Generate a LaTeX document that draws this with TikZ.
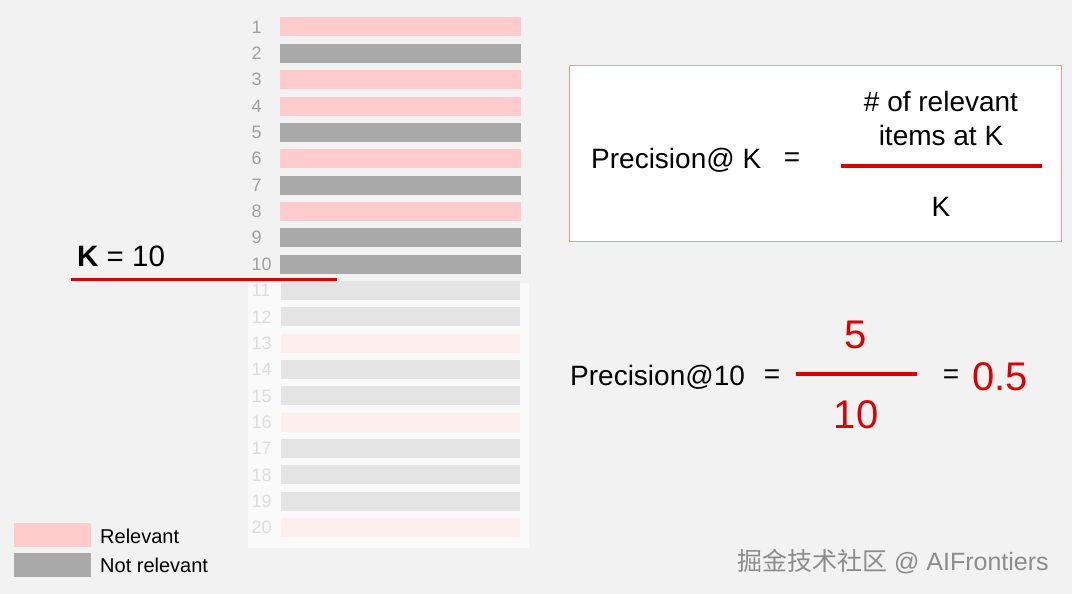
\documentclass[tikz,border=0pt]{standalone}
\usepackage{fontspec}
\setmainfont{Liberation Sans}
\newfontfamily\cjkfont{Noto Sans CJK SC}
\definecolor{bg}{HTML}{F2F2F2}
\definecolor{relpink}{HTML}{FFCCCE}
\definecolor{notgray}{HTML}{A9A9AA}
\definecolor{fadepink}{HTML}{FFEEEE}
\definecolor{fadegray}{HTML}{E4E4E4}
\definecolor{numgray}{HTML}{A0A0A0}
\definecolor{fadenum}{HTML}{DDDDDD}
\definecolor{myred}{RGB}{222,0,0}
\definecolor{boxborder}{HTML}{EC9A9A}
\definecolor{wmgray}{HTML}{8C8C8C}
\tikzset{
  bar/.style={rectangle, inner sep=0pt, minimum width=241pt, minimum height=19pt, anchor=west},
  rel/.style={bar, fill=relpink},
  nrel/.style={bar, fill=notgray},
  frel/.style={bar, fill=fadepink},
  fnrel/.style={bar, fill=fadegray},
  num/.style={anchor=west, inner sep=0pt, font=\fontsize{18}{20}\selectfont, text=numgray},
  fnum/.style={num, text=fadenum},
  big/.style={inner sep=0pt, font=\fontsize{28}{32}\selectfont},
  redbig/.style={inner sep=0pt, font=\fontsize{40}{44}\selectfont, text=myred},
  legtxt/.style={anchor=west, inner sep=0pt, font=\fontsize{20}{22}\selectfont},
  redline/.style={draw=myred, line width=4pt},
}
\begin{document}
\begin{tikzpicture}[x=1pt,y=-1pt]
\fill[bg] (0,0) rectangle (1072,594);
\useasboundingbox (0,0) rectangle (1072,594);
% lower faded panel
\fill[white!60!bg] (248,283) rectangle (529,548);
% bars
\foreach \i/\s in {1/rel,2/nrel,3/rel,4/rel,5/nrel,6/rel,7/nrel,8/rel,9/nrel,10/nrel}{
  \node[\s] (bar\i) at (280,{27+(\i-1)*26.35}) {};
  \node[num] (num\i) at (251.5,{27+(\i-1)*26.35}) {\i};
}
\foreach \i/\s in {11/fnrel,12/fnrel,13/frel,14/fnrel,15/fnrel,16/frel,17/fnrel,18/fnrel,19/fnrel,20/frel}{
  \node[\s, minimum width=239pt] (bar\i) at (281,{27+(\i-1)*26.35}) {};
  \node[fnum] (num\i) at (251.5,{27+(\i-1)*26.35}) {\i};
}
% K = 10
\node[inner sep=0pt, font=\fontsize{29.5}{32}\selectfont, anchor=west] (klabel) at (77,256) {\textbf{K} = 10};
\coordinate (kl) at (71,279);
\coordinate (kr) at (337,279);
\draw[draw=myred, line width=3pt] (kl) -- (kr);
% definition box
\node[draw=boxborder, fill=white, line width=1.2pt, rectangle, minimum width=492pt, minimum height=176pt, anchor=north west, inner sep=0pt] (defbox) at (569,65) {};
\node[big, anchor=west] (plk) at (591,160) {Precision@ K};
\node[big] (eq1) at (792,160) {=};
\coordinate (f1l) at (841,166);
\coordinate (f1r) at (1042,166);
\draw[redline] (f1l) -- (f1r);
\node[big, align=center, font=\fontsize{28}{34}\selectfont] (num) at (941,118) {\# of relevant\\items at K};
\node[big] (den) at (941,207) {K};
% example
\node[big, anchor=west] (p10) at (570,377) {Precision@10};
\node[big] (eq2) at (772,377) {=};
\coordinate (f2l) at (796,374);
\coordinate (f2r) at (917,374);
\draw[redline] (f2l) -- (f2r);
\node[redbig] (five) at (856,335) {5};
\node[redbig] (ten) at (856,415) {10};
\node[big] (eq3) at (951,377) {=};
\node[redbig, anchor=west] (res) at (972,377) {0.5};
% legend
\node[rectangle, fill=relpink, minimum width=77pt, minimum height=24pt, inner sep=0pt, anchor=north west] (legrel) at (14,523) {};
\node[rectangle, fill=notgray, minimum width=77pt, minimum height=24pt, inner sep=0pt, anchor=north west] (legnot) at (14,553) {};
\node[legtxt] (legreltxt) at (100,536) {Relevant};
\node[legtxt] (legnottxt) at (100,565) {Not relevant};
% watermark
\node[inner sep=0pt, anchor=west, text=wmgray, font=\fontsize{25}{28}\selectfont] (wm) at (737,562) {{\cjkfont 掘金技术社区} @ AIFrontiers};
\end{tikzpicture}
\end{document}
